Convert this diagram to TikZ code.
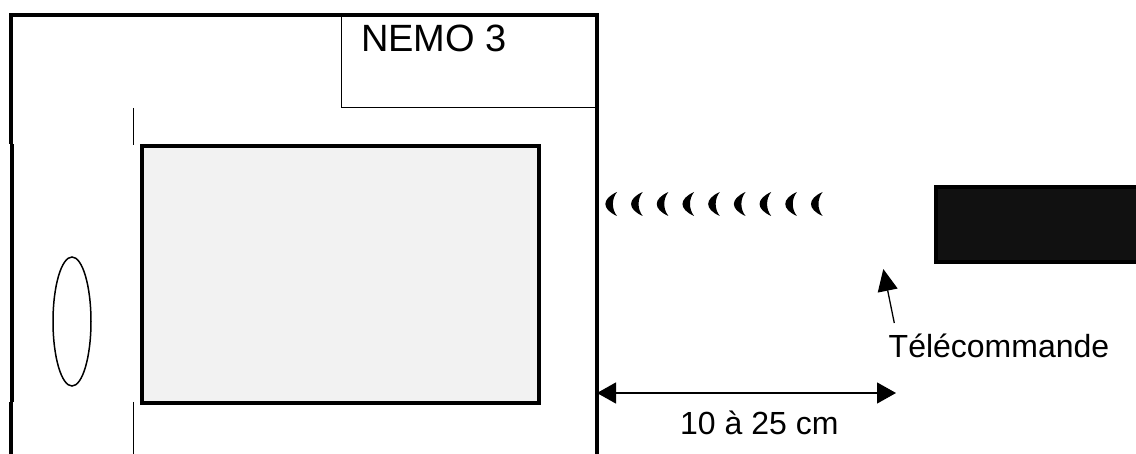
\documentclass[tikz,border=0pt]{standalone}
\usepackage{fontspec}
\setmainfont{Liberation Sans}
\usetikzlibrary{arrows.meta,shapes.geometric}
\definecolor{screengray}{HTML}{F2F2F2}
\definecolor{remoteblack}{HTML}{111111}

\begin{document}
\begin{tikzpicture}[
  x=1pt,y=-1pt,
  wall/.style={line width=4pt},
  thinwall/.style={line width=1pt},
  screen/.style={draw,line width=4pt,fill=screengray,anchor=north west,outer sep=0pt,minimum width=397pt,minimum height=257pt,inner sep=0pt},
  remote/.style={draw,line width=4pt,fill=remoteblack,anchor=north west,outer sep=0pt,minimum width=204pt,minimum height=75pt,inner sep=0pt},
  lens/.style={draw,line width=1.5pt,ellipse,minimum width=38pt,minimum height=129pt,inner sep=0pt},
  label/.style={anchor=base west,inner sep=0pt,font=\fontsize{32}{36}\selectfont},
  to/.style={-{Triangle[length=22pt,width=20pt]},line width=1.3pt},
  between/.style={{Triangle[length=19pt,width=21pt]}-{Triangle[length=19pt,width=21pt]},line width=1.3pt}]

  \useasboundingbox (0,0) rectangle (1136,454);

  % outer case
  \draw[wall] (11,454) -- (11,402);
  \draw[wall] (12,402) -- (12,144);
  \draw[wall] (11,144) -- (11,15) -- (597,15) -- (597,454);
  \draw[thinwall] (133.5,108) -- (133.5,145);
  \draw[thinwall] (133.5,402) -- (133.5,454);

  % name plate
  \draw[thinwall] (341.3,15) -- (341.3,108) -- (596,108);
  \node[label,font=\fontsize{38}{40}\selectfont] (nemo) at (361,52) {NEMO 3};

  \node[screen] (screen) at (142,146.5) {};
  \node[lens] (lens) at (72,321.5) {};

  % signal
  \foreach \i in {0,...,8} {
    \fill[black] (617+25.7*\i,192) .. controls (601.5+25.7*\i,199) and (601.5+25.7*\i,209) .. (617+25.7*\i,216)
      .. controls (611.5+25.7*\i,209) and (611.5+25.7*\i,199) .. cycle;
  }

  \node[remote] (remote) at (936,187) {};

  \node[label] (telecommande) at (888.5,358) {Télécommande};
  \coordinate (remote-tail) at (894.3,323);
  \coordinate (remote-tip) at (883.3,269);
  \draw[to] (remote-tail) -- (remote-tip);

  \coordinate (dist-left) at (597,393);
  \coordinate (dist-right) at (896,393);
  \draw[between] (dist-left) -- (dist-right);
  \node[label] (distance) at (680,435) {10 à 25 cm};
\end{tikzpicture}
\end{document}
